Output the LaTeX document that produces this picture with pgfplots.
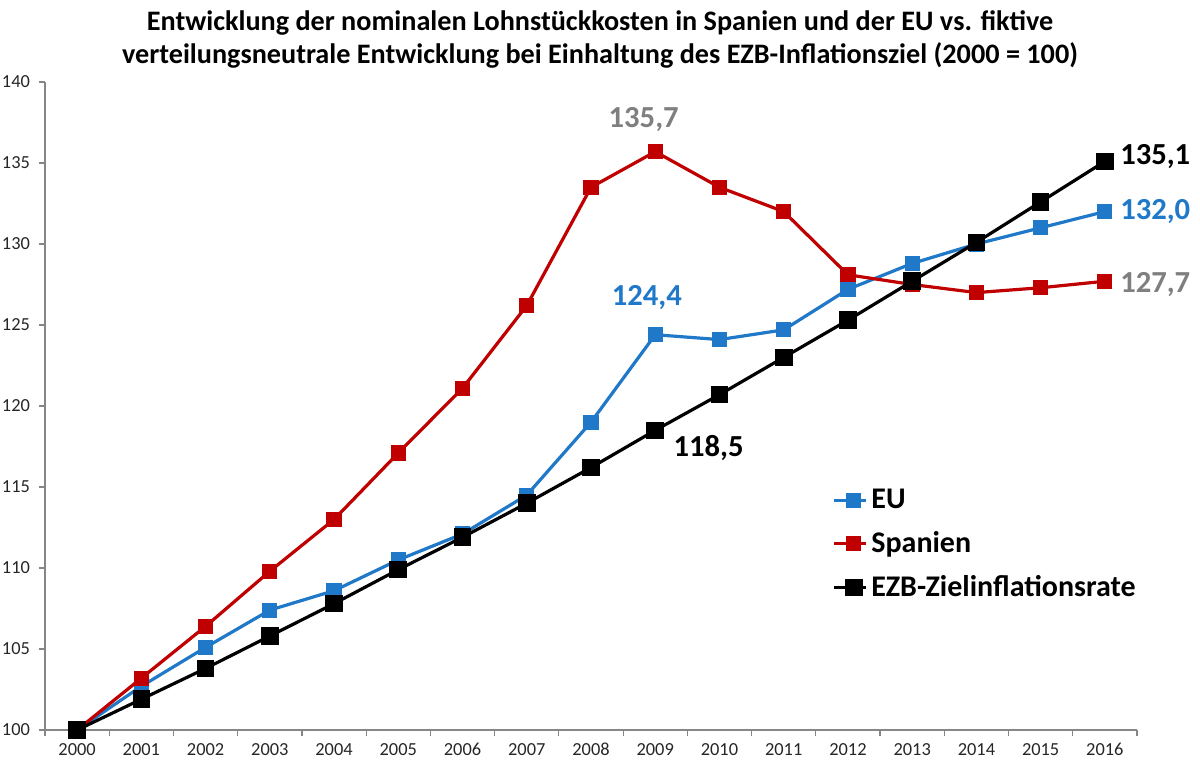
\documentclass[border=0pt]{standalone}
\usepackage{pgfplots}
\pgfplotsset{compat=1.18}
\usepackage{fontspec}
\setmainfont{Carlito}
\definecolor{eublue}{HTML}{1F78C8}
\definecolor{esred}{HTML}{C00000}
\definecolor{lblgrey}{HTML}{7F7F7F}
\definecolor{axgrey}{HTML}{868686}
\begin{document}
\begin{tikzpicture}
\useasboundingbox (0,0) rectangle (600pt,384pt);
\node[align=center,font=\fontsize{14.1}{16.5}\selectfont\bfseries] at (300pt,364.5pt)
 {Entwicklung der nominalen Lohnstückkosten in Spanien und der EU vs. fiktive\\
  verteilungsneutrale Entwicklung bei Einhaltung des EZB-Inflationsziel (2000 = 100)};
\begin{axis}[
  at={(22.5pt,19pt)}, anchor=south west,
  scale only axis, width=546pt, height=324pt,
  xmin=-0.5, xmax=16.5, ymin=100, ymax=140,
  axis x line=bottom, axis y line=left,
  axis line style={-, axgrey, line width=0.6pt},
  xtick={0,...,16},
  xticklabels={2000,2001,2002,2003,2004,2005,2006,2007,2008,2009,2010,2011,2012,2013,2014,2015,2016},
  minor xtick={-0.5,0.5,...,16.5},
  major x tick style={draw=none},
  minor x tick style={axgrey, line width=0.6pt},
  ytick={100,105,...,140},
  y tick style={axgrey, line width=0.6pt},
  tick align=outside,
  major tick length=3pt, minor tick length=3pt,
  ticklabel style={font=\fontsize{9.2}{11}\selectfont, text=black!85},
  /pgf/number format/assume math mode=true,
  y tick label style={xshift=-1pt},
  clip=false,
  legend style={draw=none, fill=none, at={(0.715,0.385)}, anchor=north west,
    font=\fontsize{15}{17}\selectfont\bfseries, row sep=6pt,
    /tikz/every even column/.append style={column sep=1pt}},
  legend cell align=left,
  legend image code/.code={
    \draw[#1, mark=none] (0pt,0pt) -- (16pt,0pt);
    \draw[#1, only marks] plot coordinates {(10pt,0pt)};
  },
]
\addplot[eublue, line width=1.6pt, mark=square*, mark size=3pt, mark options={fill=eublue, draw=eublue}]
 coordinates {(0,100) (1,102.7) (2,105.1) (3,107.4) (4,108.6) (5,110.5) (6,112.1) (7,114.5) (8,119.0) (9,124.4) (10,124.1) (11,124.7) (12,127.2) (13,128.8) (14,130.0) (15,131.0) (16,132.0)};
\addlegendentry{EU}
\addplot[esred, line width=1.6pt, mark=square*, mark size=3pt, mark options={fill=esred, draw=esred}]
 coordinates {(0,100) (1,103.2) (2,106.4) (3,109.8) (4,113.0) (5,117.1) (6,121.1) (7,126.2) (8,133.5) (9,135.7) (10,133.5) (11,132.0) (12,128.1) (13,127.5) (14,127.0) (15,127.3) (16,127.7)};
\addlegendentry{Spanien}
\addplot[black, line width=1.6pt, mark=square*, mark size=3.6pt, mark options={fill=black, draw=black}]
 coordinates {(0,100) (1,101.9) (2,103.8) (3,105.8) (4,107.8) (5,109.9) (6,111.9) (7,114.0) (8,116.2) (9,118.5) (10,120.7) (11,123.0) (12,125.3) (13,127.7) (14,130.1) (15,132.6) (16,135.1)};
\addlegendentry{EZB-Zielinflationsrate}
\node[font=\fontsize{15.3}{17}\selectfont\bfseries, text=lblgrey] at (axis cs:8.82,137.7) {135,7};
\node[font=\fontsize{15.3}{17}\selectfont\bfseries, text=eublue] at (axis cs:8.87,126.7) {124,4};
\node[font=\fontsize{15.3}{17}\selectfont\bfseries, text=black] at (axis cs:9.83,117.4) {118,5};
\node[font=\fontsize{15.3}{17}\selectfont\bfseries, text=black, anchor=west] at (axis cs:16.13,135.4) {135,1};
\node[font=\fontsize{15.3}{17}\selectfont\bfseries, text=eublue, anchor=west] at (axis cs:16.13,132.0) {132,0};
\node[font=\fontsize{15.3}{17}\selectfont\bfseries, text=lblgrey, anchor=west] at (axis cs:16.13,127.5) {127,7};
\end{axis}
\end{tikzpicture}
\end{document}
